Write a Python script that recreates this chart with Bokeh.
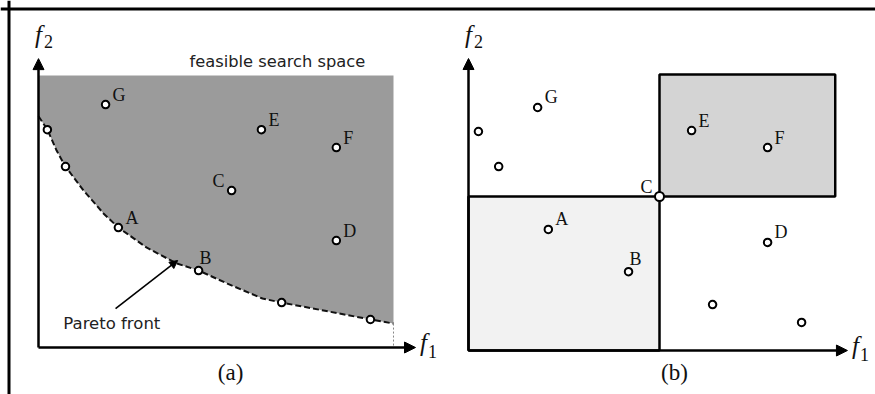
from bokeh.plotting import figure
from bokeh.models import Range1d, Arrow, NormalHead, Span
from bokeh.core.properties import value
from bokeh.embed import file_html
from bokeh.resources import INLINE

# ---------------- data: panel (a) ----------------
front_f1 = [0.0, 0.25, 0.51, 0.76, 1.27, 1.83, 2.25, 3.04, 3.89, 4.51, 5.32, 6.31, 6.85, 8.03, 9.35, 10.0]
front_f2 = [8.5, 8.01, 7.24, 6.65, 5.77, 4.93, 4.41, 3.68, 3.09, 2.83, 2.35, 1.80, 1.65, 1.36, 1.03, 0.88]
a_pareto_f1 = [0.25, 0.76, 2.25, 4.51, 6.85, 9.35]
a_pareto_f2 = [8.01, 6.65, 4.41, 2.83, 1.65, 1.03]
a_pareto_names = ["", "", "A", "B", "", ""]
a_dominated_f1 = [1.89, 6.28, 8.39, 5.44, 8.39]
a_dominated_f2 = [8.93, 8.01, 7.35, 5.77, 3.93]
a_dominated_names = ["G", "E", "F", "C", "D"]
a_space_max_f1 = 10.0
a_space_max_f2 = 10.0
a_axis_max_f1 = 10.62
a_axis_max_f2 = 10.62
a_space_label = "feasible search space"
a_space_label_pos = (6.73, 10.51)
a_front_label = "Pareto front"
a_front_label_pos = (0.70, 0.88)
a_front_arrow_from = (2.17, 1.43)
a_front_arrow_to = (3.92, 3.20)
a_caption = "(a)"
a_caption_pos = (5.41, -0.92)

# ---------------- data: panel (b) ----------------
b_f1 = [0.26, 0.79, 1.81, 5.84, 7.83, 2.09, 4.19, 7.83, 6.39, 8.72]
b_f2 = [7.11, 5.97, 7.89, 7.14, 6.59, 3.93, 2.56, 3.51, 1.49, 0.91]
b_names = ["", "", "G", "E", "F", "A", "B", "D", "", ""]
b_c_f1 = [5.0]
b_c_f2 = [5.0]
b_c_name = ["C"]
b_dominates_box = [0.0, 5.0, 0.0, 5.0]      # f1 from, f1 to, f2 from, f2 to
b_dominated_box = [5.0, 9.6, 5.0, 8.96]
b_axis_max_f1 = 9.92
b_axis_max_f2 = 9.48
b_caption = "(b)"
b_caption_pos = (5.39, -0.71)

# ---------------- layout ----------------
W, H = 875, 394
A_ORIGIN, A_SCALE = (38, 347), (35.5, 27.2)   # canvas px (from top-left), px per unit
B_ORIGIN, B_SCALE = (468, 350), (38.2, 30.8)

SERIF = value("Liberation Serif")
SANS = value("DejaVu Sans")


def xr(origin, scale):
    return Range1d(-origin[0] / scale[0], (W - origin[0]) / scale[0])


def yr(origin, scale):
    return Range1d(-(H - origin[1]) / scale[1], origin[1] / scale[1])


p = figure(width=W, height=H, x_range=Range1d(0, W), y_range=Range1d(0, H),
           output_backend="svg", toolbar_location=None, min_border=0,
           x_axis_type=None, y_axis_type=None, title=None)
p.outline_line_color = None
p.background_fill_color = "white"
p.border_fill_color = "white"
p.extra_x_ranges = {"ax": xr(A_ORIGIN, A_SCALE), "bx": xr(B_ORIGIN, B_SCALE)}
p.extra_y_ranges = {"ay": yr(A_ORIGIN, A_SCALE), "by": yr(B_ORIGIN, B_SCALE)}

# outer frame (top and left edges visible)
p.add_layout(Span(location=H - 8.5, dimension="width", line_color="black", line_width=3))
p.add_layout(Span(location=8.5, dimension="height", line_color="black", line_width=3))

A = dict(x_range_name="ax", y_range_name="ay")
B = dict(x_range_name="bx", y_range_name="by")

# label placement: default upper-right of the point
ANCHOR = {"B": ("center", 7, -13), "C": ("right", -7, -10)}


def point_labels(xs, ys, names, rng):
    for x, y, n in zip(xs, ys, names):
        if not n:
            continue
        align, dx, dy = ANCHOR.get(n, ("left", 7, -10))
        p.text(x=[x], y=[y], text=[n], text_font=SERIF, text_font_size="18px",
               text_align=align, text_baseline="middle", x_offset=dx, y_offset=dy,
               text_color="#111111", **rng)


def axes(max_f1, max_f2, rng):
    for xe, ye in ((max_f1, 0), (0, max_f2)):
        p.add_layout(Arrow(end=NormalHead(size=11, fill_color="black", line_color="black", line_width=1),
                           x_start=0, y_start=0, x_end=xe, y_end=ye,
                           line_color="black", line_width=2.5, **rng))
    # f2 label at the top of the vertical axis
    p.text(x=[0], y=[max_f2], text=["f"], text_font=SERIF, text_font_style="italic",
           text_font_size="25px", text_align="center", text_baseline="middle",
           x_offset=0, y_offset=-24, text_color="#111111", **rng)
    p.text(x=[0], y=[max_f2], text=["2"], text_font=SERIF, text_font_size="18px",
           text_align="center", text_baseline="middle", x_offset=10, y_offset=-17,
           text_color="#111111", **rng)
    # f1 label at the end of the horizontal axis
    p.text(x=[max_f1], y=[0], text=["f"], text_font=SERIF, text_font_style="italic",
           text_font_size="25px", text_align="center", text_baseline="middle",
           x_offset=8, y_offset=-5, text_color="#111111", **rng)
    p.text(x=[max_f1], y=[0], text=["1"], text_font=SERIF, text_font_size="18px",
           text_align="center", text_baseline="middle", x_offset=17, y_offset=4,
           text_color="#111111", **rng)


# ---------------- panel (a) ----------------
p.patch(x=front_f1 + [a_space_max_f1, 0], y=front_f2 + [a_space_max_f2, a_space_max_f2],
        fill_color="#9b9b9b", line_color=None, **A)
p.line(x=front_f1, y=front_f2, line_color="#111111", line_width=2, line_dash="6 3", **A)
p.line(x=[front_f1[-1], front_f1[-1]], y=[front_f2[-1], 0], line_color="#888888",
       line_width=1, line_dash="2 2", **A)
axes(a_axis_max_f1, a_axis_max_f2, A)
p.scatter(x=a_pareto_f1, y=a_pareto_f2, marker="circle", size=7.5, fill_color="white",
          line_color="black", line_width=2, **A)
p.scatter(x=a_dominated_f1, y=a_dominated_f2, marker="circle", size=7.5, fill_color="white",
          line_color="black", line_width=2, **A)
point_labels(a_pareto_f1, a_pareto_f2, a_pareto_names, A)
point_labels(a_dominated_f1, a_dominated_f2, a_dominated_names, A)
p.text(x=[a_space_label_pos[0]], y=[a_space_label_pos[1]], text=[a_space_label],
       text_font=SANS, text_font_size="16.3px", text_align="center", text_baseline="middle",
       text_color="#222222", **A)
p.text(x=[a_front_label_pos[0]], y=[a_front_label_pos[1]], text=[a_front_label],
       text_font=SANS, text_font_size="16.5px", text_align="left", text_baseline="middle",
       text_color="#222222", **A)
p.add_layout(Arrow(end=NormalHead(size=8, fill_color="black", line_color="black", line_width=1),
                   x_start=a_front_arrow_from[0], y_start=a_front_arrow_from[1],
                   x_end=a_front_arrow_to[0], y_end=a_front_arrow_to[1],
                   line_color="black", line_width=1.6, **A))
p.text(x=[a_caption_pos[0]], y=[a_caption_pos[1]], text=[a_caption], text_font=SERIF,
       text_font_size="23px", text_align="center", text_baseline="middle",
       text_color="#111111", **A)

# ---------------- panel (b) ----------------
p.quad(left=[b_dominates_box[0]], right=[b_dominates_box[1]],
       bottom=[b_dominates_box[2]], top=[b_dominates_box[3]],
       fill_color="#f2f2f2", line_color="black", line_width=2.5, **B)
p.quad(left=[b_dominated_box[0]], right=[b_dominated_box[1]],
       bottom=[b_dominated_box[2]], top=[b_dominated_box[3]],
       fill_color="#d4d4d4", line_color="black", line_width=2.5, **B)
axes(b_axis_max_f1, b_axis_max_f2, B)
p.scatter(x=b_f1, y=b_f2, marker="circle", size=7.5, fill_color="white",
          line_color="black", line_width=2, **B)
p.scatter(x=b_c_f1, y=b_c_f2, marker="circle", size=9, fill_color="white",
          line_color="black", line_width=2, **B)
point_labels(b_f1, b_f2, b_names, B)
point_labels(b_c_f1, b_c_f2, b_c_name, B)
p.text(x=[b_caption_pos[0]], y=[b_caption_pos[1]], text=[b_caption], text_font=SERIF,
       text_font_size="23px", text_align="center", text_baseline="middle",
       text_color="#111111", **B)

open("out.html", "w").write(file_html(p, INLINE))
